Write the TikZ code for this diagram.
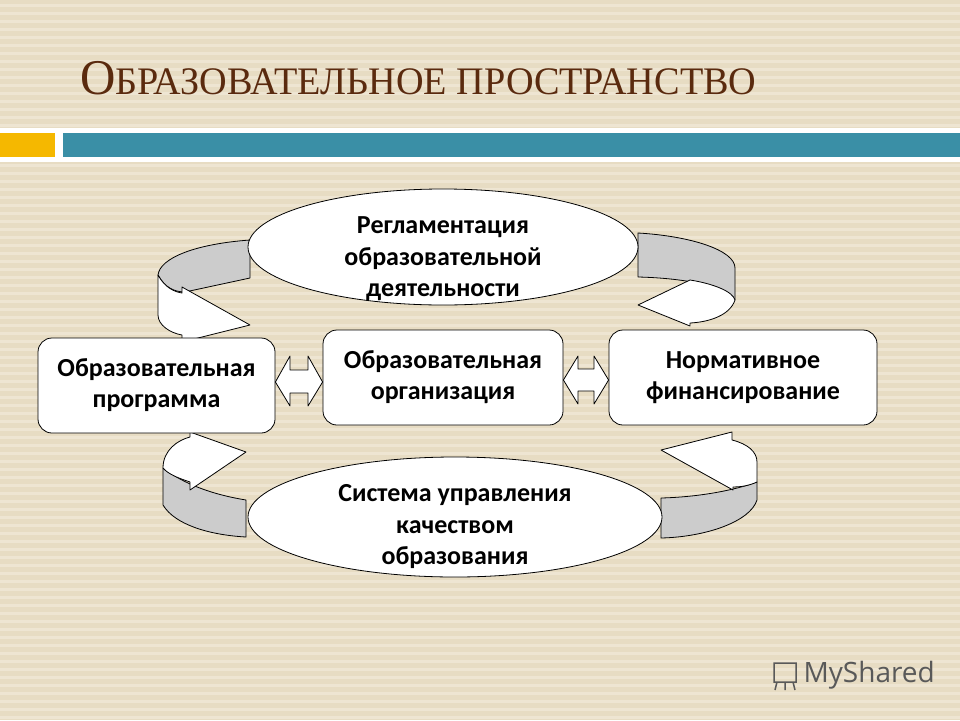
\documentclass[tikz,border=0pt]{standalone}
\usepackage{fontspec}
\setmainfont{Carlito}
\newfontfamily\titlefont{Liberation Serif}
\newfontfamily\logofont{Open Sans}
\usetikzlibrary{shapes.geometric}
\definecolor{bg}{HTML}{E7DCC3}
\definecolor{stripe}{HTML}{EEE5D2}
\definecolor{teal}{HTML}{3A8FA6}
\definecolor{gold}{HTML}{F5B800}
\definecolor{titlec}{HTML}{5A2A0E}
\definecolor{band}{HTML}{CCCCCC}
\tikzset{
 box/.style={draw=black, fill=white, rounded corners=14pt, line width=0.8pt, align=center, font=\bfseries\fontsize{26}{31}\selectfont, inner sep=0pt},
 ell/.style={ellipse, draw=black, fill=white, line width=0.8pt, align=center, font=\bfseries\fontsize{26}{31.5}\selectfont, inner sep=0pt},
 piece/.style={draw=black, line width=0.8pt, line join=round},
}
\begin{document}
\begin{tikzpicture}[x=1pt,y=-1pt]
\useasboundingbox (0,0) rectangle (960,720);
\fill[bg] (0,0) rectangle (960,720);
\foreach \y in {4,12,...,720} \fill[stripe] (0,\y) rectangle (960,\y+3);
% header bars
\fill[white] (0,128) rectangle (960,162);
\fill[gold] (0,133) rectangle (55,157);
\fill[teal] (63,133) rectangle (960,157);
\node[anchor=base west, text=titlec, inner sep=0pt, xscale=0.98] (title) at (80,94)
 {\titlefont\fontsize{50}{56}\selectfont О\fontsize{39}{44}\selectfont БРАЗОВАТЕЛЬНОЕ ПРОСТРАНСТВО};
% curved arrows
\draw[piece, fill=band] (250,240) .. controls (195,244) and (160,258) .. (158,275) .. controls (165,288) and (175,292) .. (185,292) -- (250,278) -- cycle;
\draw[piece, fill=white] (158,275) .. controls (165,288) and (175,292) .. (182,293) -- (182,287) -- (250,325) -- (182,342) -- (182,335) .. controls (170,333) and (158,325) .. (158,315) -- cycle;
\draw[piece, fill=band] (638,233) .. controls (690,236) and (735,250) .. (735,268) -- (735,300) .. controls (725,285) and (680,278) .. (638,277) -- cycle;
\draw[piece, fill=white] (638,305) -- (690,280) .. controls (715,284) and (733,292) .. (735,300) .. controls (730,315) and (710,322) .. (690,323) -- (690,326) -- cycle;
\draw[piece, fill=band] (163,468) -- (163,505) .. controls (175,525) and (210,535) .. (246,537) -- (246,500) .. controls (215,495) and (185,485) .. (163,468) -- cycle;
\draw[piece, fill=white] (163,468) .. controls (163,450) and (178,440) .. (190,437) -- (190,432) -- (246,452) -- (190,490) -- (190,482) .. controls (178,478) and (168,474) .. (163,468) -- cycle;
\draw[piece, fill=band] (661,498) .. controls (700,497) and (735,490) .. (757,482) -- (757,500) .. controls (750,522) and (705,537) .. (661,538) -- cycle;
\draw[piece, fill=white] (661,450) -- (732,432) -- (732,440) .. controls (748,444) and (757,452) .. (757,462) -- (757,482) .. controls (748,486) and (740,487) .. (733,487) -- (733,490) -- cycle;
% ellipses
\node[ell, minimum width=390pt, minimum height=116pt] (reg) at (443,247) {};
\node[align=center, font=\bfseries\fontsize{26}{31.5}\selectfont] (regt) at (443,259) {Регламентация\\образовательной\\деятельности};
\node[ell, minimum width=414pt, minimum height=120pt] (sys) at (455,517) {};
\node[align=center, font=\bfseries\fontsize{26}{31.5}\selectfont] (syst) at (455,527) {Система управления\\качеством\\образования};
% boxes
\node[box, minimum width=237pt, minimum height=95pt] (prog) at (156.5,385.5) {Образовательная\\программа};
\node[box, minimum width=240pt, minimum height=95pt] (org) at (443,377.5) {Образовательная\\организация};
\node[box, minimum width=268pt, minimum height=95pt] (fin) at (743,377.5) {Нормативное\\финансирование};
% double arrows
\draw[piece, fill=white] (prog.east |- 0,382) -- (290,356) -- (290,370) -- (308,370) -- (308,356) -- (org.west |- 0,382) -- (308,406) -- (308,393) -- (290,393) -- (290,406) -- cycle;
\draw[piece, fill=white] (org.east |- 0,380) -- (578,356) -- (578,369) -- (594,369) -- (594,356) -- (fin.west |- 0,380) -- (594,404) -- (594,391) -- (578,391) -- (578,404) -- cycle;
% logo
\node[anchor=west, text=black!65, font=\logofont\fontsize{28}{30}\selectfont] (logo) at (800,675) {MyShared};
\draw[black!65, line width=1.5pt] (774,663) rectangle (796,682) (777,682) -- (775,690) (785,682) -- (785,690) (793,682) -- (795,690);
\end{tikzpicture}
\end{document}
